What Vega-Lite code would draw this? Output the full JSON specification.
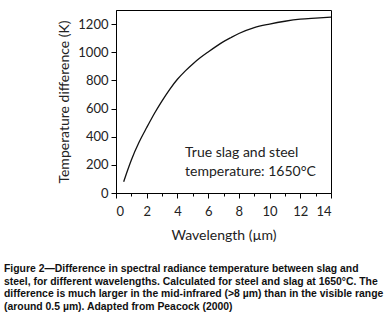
{
  "$schema": "https://vega.github.io/schema/vega-lite/v6.json",
  "width": 215,
  "height": 183,
  "autosize": "none",
  "padding": {"left": 116, "top": 10, "right": 60, "bottom": 123},
  "config": {
    "view": {"stroke": "black", "strokeWidth": 1},
    "axis": {"labelFont": "Lato", "titleFont": "Lato", "labelFontSize": 13, "titleFontSize": 14, "titleFontWeight": "normal", "labelColor": "#222", "titleColor": "#222", "domainColor": "black", "tickColor": "black", "grid": false, "labelOverlap": false}
  },
  "title": {
    "text": ["Figure 2—Difference in spectral radiance temperature between slag and", "steel, for different wavelengths. Calculated for steel and slag at 1650°C. The", "difference is much larger in the mid-infrared (>8 µm) than in the visible range", "(around 0.5 µm). Adapted from Peacock (2000)"],
    "orient": "bottom",
    "anchor": "start",
    "frame": "group",
    "dx": -112,
    "offset": 22,
    "font": "Liberation Sans",
    "fontSize": 10.4,
    "fontWeight": "bold",
    "color": "#111",
    "lineHeight": 12.5
  },
  "resolve": {"axis": {"x": "independent"}},
  "layer": [
    {
      "data": {"values": [
        {"w": 0.5, "t": 80}, {"w": 0.75, "t": 160}, {"w": 1.0, "t": 235}, {"w": 1.5, "t": 360},
        {"w": 2.0, "t": 465}, {"w": 2.5, "t": 565}, {"w": 3.0, "t": 655}, {"w": 3.5, "t": 737},
        {"w": 4.0, "t": 808}, {"w": 4.5, "t": 866}, {"w": 5.0, "t": 917}, {"w": 5.5, "t": 962},
        {"w": 6.0, "t": 1002}, {"w": 6.5, "t": 1040}, {"w": 7.0, "t": 1075}, {"w": 7.5, "t": 1105},
        {"w": 8.0, "t": 1133}, {"w": 9.0, "t": 1175}, {"w": 10.0, "t": 1200}, {"w": 11.0, "t": 1220},
        {"w": 12.0, "t": 1235}, {"w": 13.0, "t": 1243}, {"w": 14.0, "t": 1250}
      ]},
      "mark": {"type": "line", "color": "#111", "strokeWidth": 1.3, "interpolate": "monotone"},
      "encoding": {
        "x": {"field": "w", "type": "quantitative", "scale": {"domain": [0, 14], "nice": false}, "axis": {"orient": "bottom", "title": "Wavelength (µm)", "values": [0, 2, 4, 6, 8, 10, 12, 14], "format": "d", "tickSize": 5, "labelPadding": 7, "titlePadding": 10}},
        "y": {"field": "t", "type": "quantitative", "scale": {"domain": [0, 1300], "nice": false}, "axis": {"title": "Temperature difference (K)", "values": [0, 200, 400, 600, 800, 1000, 1200], "format": "d", "tickSize": 5, "labelPadding": 3, "titlePadding": 6}}
      }
    },
    {
      "data": {"values": [
        {"w": 4.5, "t": 284, "label": "True slag and steel"},
        {"w": 4.5, "t": 151, "label": "temperature: 1650°C"}
      ]},
      "mark": {"type": "text", "align": "left", "baseline": "middle", "font": "Lato", "fontSize": 14, "color": "#222"},
      "encoding": {
        "x": {"field": "w", "type": "quantitative", "axis": {"orient": "bottom", "title": null, "values": [1, 3, 5, 7, 9, 11, 13], "labels": false, "tickSize": 3, "domain": false}},
        "y": {"field": "t", "type": "quantitative", "axis": {"title": "Temperature difference (K)", "values": [0, 200, 400, 600, 800, 1000, 1200], "format": "d", "tickSize": 5, "labelPadding": 3, "titlePadding": 6}},
        "text": {"field": "label"}
      }
    }
  ]
}
